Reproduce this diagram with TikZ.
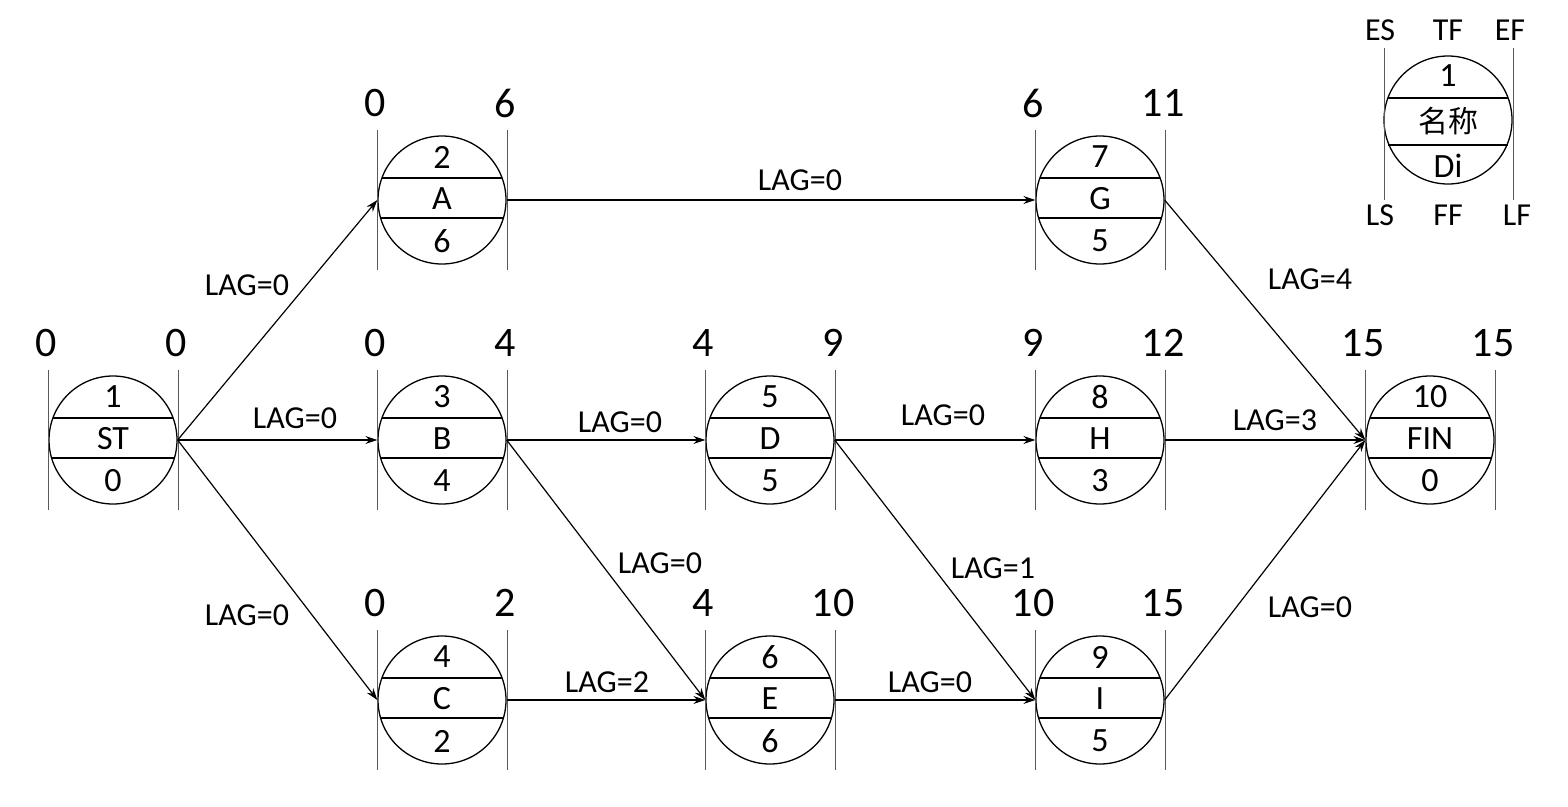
\documentclass[tikz,border=0pt]{standalone}
\usepackage{fontspec}
\setmainfont{Carlito}
\newfontfamily\cjk{Noto Sans CJK SC}
\usetikzlibrary{arrows.meta}
\tikzset{
 circ/.style={circle,draw,line width=1.3pt,minimum size=128pt,inner sep=0pt},
 vl/.style={line width=0.6pt,gray!70!black},
 ch/.style={line width=1.3pt},
 intx/.style={font=\fontsize{34}{34}\selectfont,inner sep=0pt},
 big/.style={font=\fontsize{42}{42}\selectfont,inner sep=0pt},
 lag/.style={font=\fontsize{32}{32}\selectfont,inner sep=0pt},
 arr/.style={line width=1.2pt,-{Stealth[length=12pt,width=8pt]}}
}
\newcommand\act[8]{%
 \node[circ] (#1) at (#2,#3) {};
 \draw[ch] ($(#1)+(-60,-22)$) -- ++(120,0);
 \draw[ch] ($(#1)+(-61.4,18)$) -- ++(122.8,0);
 \draw[vl] ($(#1)+(-65,-70)$) -- ++(0,140);
 \draw[vl] ($(#1)+(65,-70)$) -- ++(0,140);
 \node[intx] at ($(#1)+(0,-43)$) {#4};
 \node[intx] at ($(#1)+(0,-1)$) {#5};
 \node[intx] at ($(#1)+(0,41)$) {#6};
 \node[big] at ($(#1)+(-67,-97)$) {#7};
 \node[big] at ($(#1)+(63,-97)$) {#8};
}
\usetikzlibrary{calc}
\begin{document}
\begin{tikzpicture}[x=1pt,y=-1pt]
\useasboundingbox (0,0) rectangle (1568,806);
\act{ST}{113}{440}{1}{ST}{0}{0}{0}
\act{A}{442}{200}{2}{A}{6}{0}{6}
\act{B}{442}{440}{3}{B}{4}{0}{4}
\act{C}{442}{700}{4}{C}{2}{0}{2}
\act{D}{770}{440}{5}{D}{5}{4}{9}
\act{E}{770}{700}{6}{E}{6}{4}{10}
\act{G}{1100}{200}{7}{G}{5}{6}{11}
\act{H}{1100}{440}{8}{H}{3}{9}{12}
\act{I}{1100}{700}{9}{I}{5}{10}{15}
\act{FIN}{1430}{440}{10}{FIN}{0}{15}{15}
\draw[arr] (ST.east) -- (A.west);
\draw[arr] (ST.east) -- (B.west);
\draw[arr] (ST.east) -- (C.west);
\draw[arr] (A.east) -- (G.west);
\draw[arr] (B.east) -- (D.west);
\draw[arr] (B.east) -- (E.west);
\draw[arr] (C.east) -- (E.west);
\draw[arr] (D.east) -- (H.west);
\draw[arr] (D.east) -- (I.west);
\draw[arr] (E.east) -- (I.west);
\draw[arr] (G.east) -- (FIN.west);
\draw[arr] (H.east) -- (FIN.west);
\draw[arr] (I.east) -- (FIN.west);
\node[lag] at (247,285) {LAG=0};
\node[lag] at (295,418) {LAG=0};
\node[lag] at (247,615) {LAG=0};
\node[lag] at (800,180) {LAG=0};
\node[lag] at (620,422) {LAG=0};
\node[lag] at (660,563) {LAG=0};
\node[lag] at (607,682) {LAG=2};
\node[lag] at (943,415) {LAG=0};
\node[lag] at (993,568) {LAG=1};
\node[lag] at (930,682) {LAG=0};
\node[lag] at (1310,279) {LAG=4};
\node[lag] at (1275,420) {LAG=3};
\node[lag] at (1310,607) {LAG=0};
% legend
\node[circ] (leg) at (1448,120) {};
\draw[ch] (1388,98) -- (1508,98);
\draw[ch] (1388,145) -- (1508,145);
\draw[vl] (1384,48) -- (1384,200);
\draw[vl] (1513,48) -- (1513,200);
\node[intx] at (1448,76) {1};
\node[inner sep=0pt,font=\cjk\fontsize{30}{30}\selectfont] at (1448,121) {名称};
\node[intx] at (1448,166) {Di};
\node[lag] at (1380,30) {ES};
\node[lag] at (1448,30) {TF};
\node[lag] at (1510,30) {EF};
\node[lag] at (1380,215) {LS};
\node[lag] at (1448,215) {FF};
\node[lag] at (1517,215) {LF};
\end{tikzpicture}
\end{document}
